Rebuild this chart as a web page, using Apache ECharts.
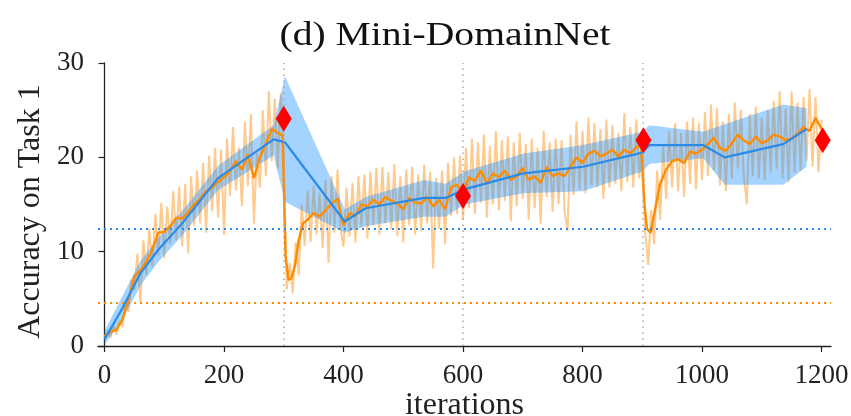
<!DOCTYPE html>
<html><head><meta charset="utf-8">
<script src="https://cdn.jsdelivr.net/npm/echarts@6/dist/echarts.min.js"></script>
<style>html,body{margin:0;padding:0;background:#fff}#c{width:851px;height:416px}</style>
</head><body><div id="c"></div>
<script>
// ---- data ----
const titleText = '(d) Mini-DomainNet';
const xTicks = [0, 200, 400, 600, 800, 1000, 1200];
const taskBoundaries = [300, 600, 900];
const blueBaseline = 12.4;
const orangeBaseline = 4.6;

const blueIters = [0, 30, 60, 90, 130, 190, 283, 302, 402, 437, 535, 571, 602, 701, 801, 900, 912, 1002, 1038, 1136, 1175];
const blueMean  = [0.7, 4.0, 7.7, 10.2, 13.0, 17.8, 21.9, 21.6, 13.2, 14.6, 15.7, 15.7, 16.6, 18.3, 19.0, 20.5, 21.3, 21.3, 20.0, 21.4, 23.0];
const blueLow   = [0.1, 2.8, 6.4, 8.9, 11.7, 16.5, 20.2, 15.3, 12.0, 12.7, 13.7, 13.7, 15.0, 16.2, 16.4, 18.5, 19.3, 19.9, 17.1, 17.1, 19.0];
const blueHigh  = [1.6, 5.3, 9.0, 11.5, 14.3, 19.1, 23.4, 28.6, 14.5, 15.8, 17.6, 17.2, 18.5, 20.4, 21.3, 22.7, 23.4, 22.7, 23.5, 25.6, 25.2];

const orangeIters = [0,10,20,30,40,50,60,70,80,90,100,110,120,130,140,150,160,170,180,190,200,210,220,230,240,250,260,270,280,290,
  298,303,308,313,319,325,332,
  340,350,360,370,380,390,400,410,420,430,440,450,460,470,480,490,500,510,520,530,540,550,560,570,580,590,600,610,620,630,640,650,660,670,680,690,700,710,720,730,740,750,760,770,780,790,800,810,820,830,840,850,860,870,880,890,
  898,903,908,914,921,
  930,940,950,960,970,980,990,1000,1010,1020,1030,1040,1050,1060,1070,1080,1090,1100,1110,1120,1130,1140,1150,1160,1170,1180,1190,1200];
const orangeMean = [1.0,1.5,1.7,2.8,4.9,7.4,8.0,8.9,10.2,12.0,12.1,12.7,13.6,13.5,14.2,15.0,15.6,16.4,16.8,17.4,17.9,18.5,19.6,18.7,20.3,17.8,20.0,21.4,23.0,22.6,
  22.3,9.5,7.0,7.2,8.6,11.2,13.0,
  13.4,14.1,13.7,14.4,15.1,15.6,12.8,14.1,13.8,15.0,14.8,15.5,15.0,15.8,15.4,15.1,14.5,15.7,15.2,15.1,15.8,14.8,15.5,14.5,16.8,17.1,16.3,17.9,17.5,18.6,17.2,18.3,17.9,18.6,17.6,18.0,18.9,17.6,18.0,17.3,19.0,18.0,18.3,18.0,19.0,20.0,19.4,20.4,20.7,20.1,20.4,20.8,20.1,20.8,20.4,21.1,
  21.2,15.5,12.4,12.0,14.3,
  17.2,18.7,19.6,19.8,19.4,20.6,20.4,20.8,21.4,22.1,21.0,20.7,21.5,22.4,21.8,21.4,22.2,21.5,21.8,22.4,22.2,21.8,22.0,22.5,23.2,22.8,24.2,23.0];

// raw (unsmoothed) accuracy, one reading every 5 iterations
const rawStep = 5;
const rawValues = [
  1.0,1.6,0.9,2.2,1.2,2.6,2.0,4.8,3.6,7.0,5.9,9.8,4.6,11.2,7.5,12.5,8.4,14.0,9.6,15.2,
  9.3,14.8,10.8,16.4,11.2,16.9,10.6,17.2,9.8,18.0,12.8,18.6,13.0,19.4,12.0,20.2,14.3,21.0,13.6,20.8,
  11.8,22.0,15.9,23.2,16.5,21.0,14.8,23.8,17.0,24.6,13.0,20.5,16.8,25.0,18.0,27.0,19.6,26.2,18.8,26.8,
  20.0,6.0,8.8,5.6,11.0,7.5,15.0,10.6,16.5,11.0,17.0,11.8,16.2,10.4,17.6,8.8,18.0,12.0,18.7,12.5,
  10.5,16.8,11.6,17.3,11.0,18.0,12.6,18.2,11.4,18.5,12.8,18.9,11.8,19.0,13.0,18.4,12.4,19.3,11.6,18.0,
  11.0,18.7,12.8,19.0,11.8,18.2,12.2,19.2,13.0,18.5,8.2,17.8,12.4,18.6,10.8,19.4,13.8,20.0,14.0,20.2,
  13.4,21.0,14.6,22.0,14.0,21.6,15.2,22.4,13.6,21.2,15.0,22.8,14.4,21.8,15.4,22.2,13.2,21.6,14.8,22.6,
  15.6,21.4,13.4,22.0,14.6,21.0,13.0,22.8,15.8,21.6,14.2,22.0,15.0,21.8,14.2,12.2,22.4,16.0,23.8,16.6,
  22.8,16.2,24.2,17.0,23.6,16.8,23.0,15.6,24.0,16.8,23.4,17.2,22.6,16.4,24.7,17.4,23.2,16.8,24.0,17.8,
  22.6,12.0,8.6,14.4,10.8,18.6,13.4,21.4,15.6,22.8,16.8,23.6,16.4,22.6,15.8,23.8,17.2,24.2,16.6,23.6,
  17.6,24.8,18.0,25.6,18.6,25.2,17.0,23.8,16.4,24.6,17.8,25.8,18.8,25.0,18.0,15.0,24.6,18.0,25.4,17.8,
  24.2,17.6,25.0,18.4,26.0,18.8,27.0,17.8,25.2,17.4,27.0,18.4,25.8,18.6,26.4,19.6,27.2,19.0,26.4,18.4,
  24.0];

const markerIters = [300, 600, 902, 1202];
const markerValues = [24.1, 15.9, 21.8, 21.8];

// ---- chart ----
const zip = (a, b) => a.map((x, i) => [x, b[i]]);
const SERIF = '"Liberation Serif", "Times New Roman", serif';
const TXT = '#222';
const BLUE = '#2b8be8';
const ORANGE = '#ff8c00';

const chart = echarts.init(document.getElementById('c'), null, {renderer: 'canvas'});
chart.setOption({
  animation: false,
  graphic: [{
    type: 'text', x: 445, y: 36, scaleX: 1.2,
    style: {text: titleText, font: '33px ' + SERIF, fill: '#111', align: 'center', verticalAlign: 'middle'}
  }],
  grid: {left: 98, top: 63, width: 733, height: 283, containLabel: false, outerBoundsMode: 'none'},
  xAxis: {
    type: 'value', min: -10.9, max: 1215.9,
    name: 'iterations', nameLocation: 'middle', nameGap: 44, nameMoveOverlap: false,
    nameTextStyle: {fontFamily: SERIF, fontSize: 32, color: TXT},
    axisLine: {lineStyle: {color: TXT, width: 1.3}},
    axisTick: {show: true, length: 6, customValues: xTicks, lineStyle: {color: TXT, width: 1.2}},
    axisLabel: {customValues: xTicks, formatter: v => String(v), fontFamily: SERIF, fontSize: 27, color: TXT, margin: 16},
    splitLine: {show: false}
  },
  yAxis: {
    type: 'value', min: 0, max: 30, interval: 10,
    name: 'Accuracy on Task 1', nameLocation: 'middle', nameGap: 50, nameRotate: 90,
    nameTextStyle: {fontFamily: SERIF, fontSize: 32, color: TXT, padding: [0, 14, 0, 0]},
    axisLine: {show: true, lineStyle: {color: TXT, width: 1.3}},
    axisTick: {show: true, length: 6, lineStyle: {color: TXT, width: 1.2}},
    axisLabel: {fontFamily: SERIF, fontSize: 27, color: TXT, margin: 14},
    splitLine: {show: false}
  },
  series: [
    {
      name: 'raw', type: 'line', z: 1, symbol: 'none', silent: true,
      data: zip(rawValues.map((_, i) => i * rawStep), rawValues),
      lineStyle: {color: 'rgba(255,150,30,0.5)', width: 2},
      markLine: {
        silent: true, symbol: 'none', label: {show: false},
        lineStyle: {color: '#a8a8a8', width: 1.5, type: [1.5, 4.5]},
        data: taskBoundaries.map(v => ({xAxis: v}))
      }
    },
    {
      name: 'band', type: 'custom', z: 2, silent: true,
      data: blueIters.map((x, i) => [x, blueLow[i], blueHigh[i]]),
      encode: {x: 0, y: [1, 2]},
      renderItem: (params, api) => {
        if (params.dataIndex !== 0) return null;
        const pts = [];
        for (let i = 0; i < blueIters.length; i++) pts.push(api.coord([blueIters[i], blueHigh[i]]));
        for (let i = blueIters.length - 1; i >= 0; i--) pts.push(api.coord([blueIters[i], blueLow[i]]));
        return {type: 'polygon', shape: {points: pts}, style: {fill: 'rgba(30,144,255,0.40)'}};
      }
    },
    {
      name: 'orangeMean', type: 'line', z: 3, symbol: 'none', silent: true,
      data: zip(orangeIters, orangeMean),
      lineStyle: {color: ORANGE, width: 2.4},
      markLine: {
        silent: true, symbol: 'none', label: {show: false},
        lineStyle: {color: ORANGE, width: 2, type: [2, 4]},
        data: [{yAxis: orangeBaseline}]
      }
    },
    {
      name: 'blueMean', type: 'line', z: 4, symbol: 'none', silent: true,
      data: zip(blueIters, blueMean),
      lineStyle: {color: BLUE, width: 2.2},
      markLine: {
        silent: true, symbol: 'none', label: {show: false},
        lineStyle: {color: BLUE, width: 2, type: [2, 4]},
        data: [{yAxis: blueBaseline}]
      }
    },
    {
      name: 'markers', type: 'scatter', z: 5, symbol: 'diamond', symbolSize: [16, 26],
      data: zip(markerIters, markerValues),
      itemStyle: {color: '#ff0000', opacity: 1}
    }
  ]
});
</script>
</body></html>
